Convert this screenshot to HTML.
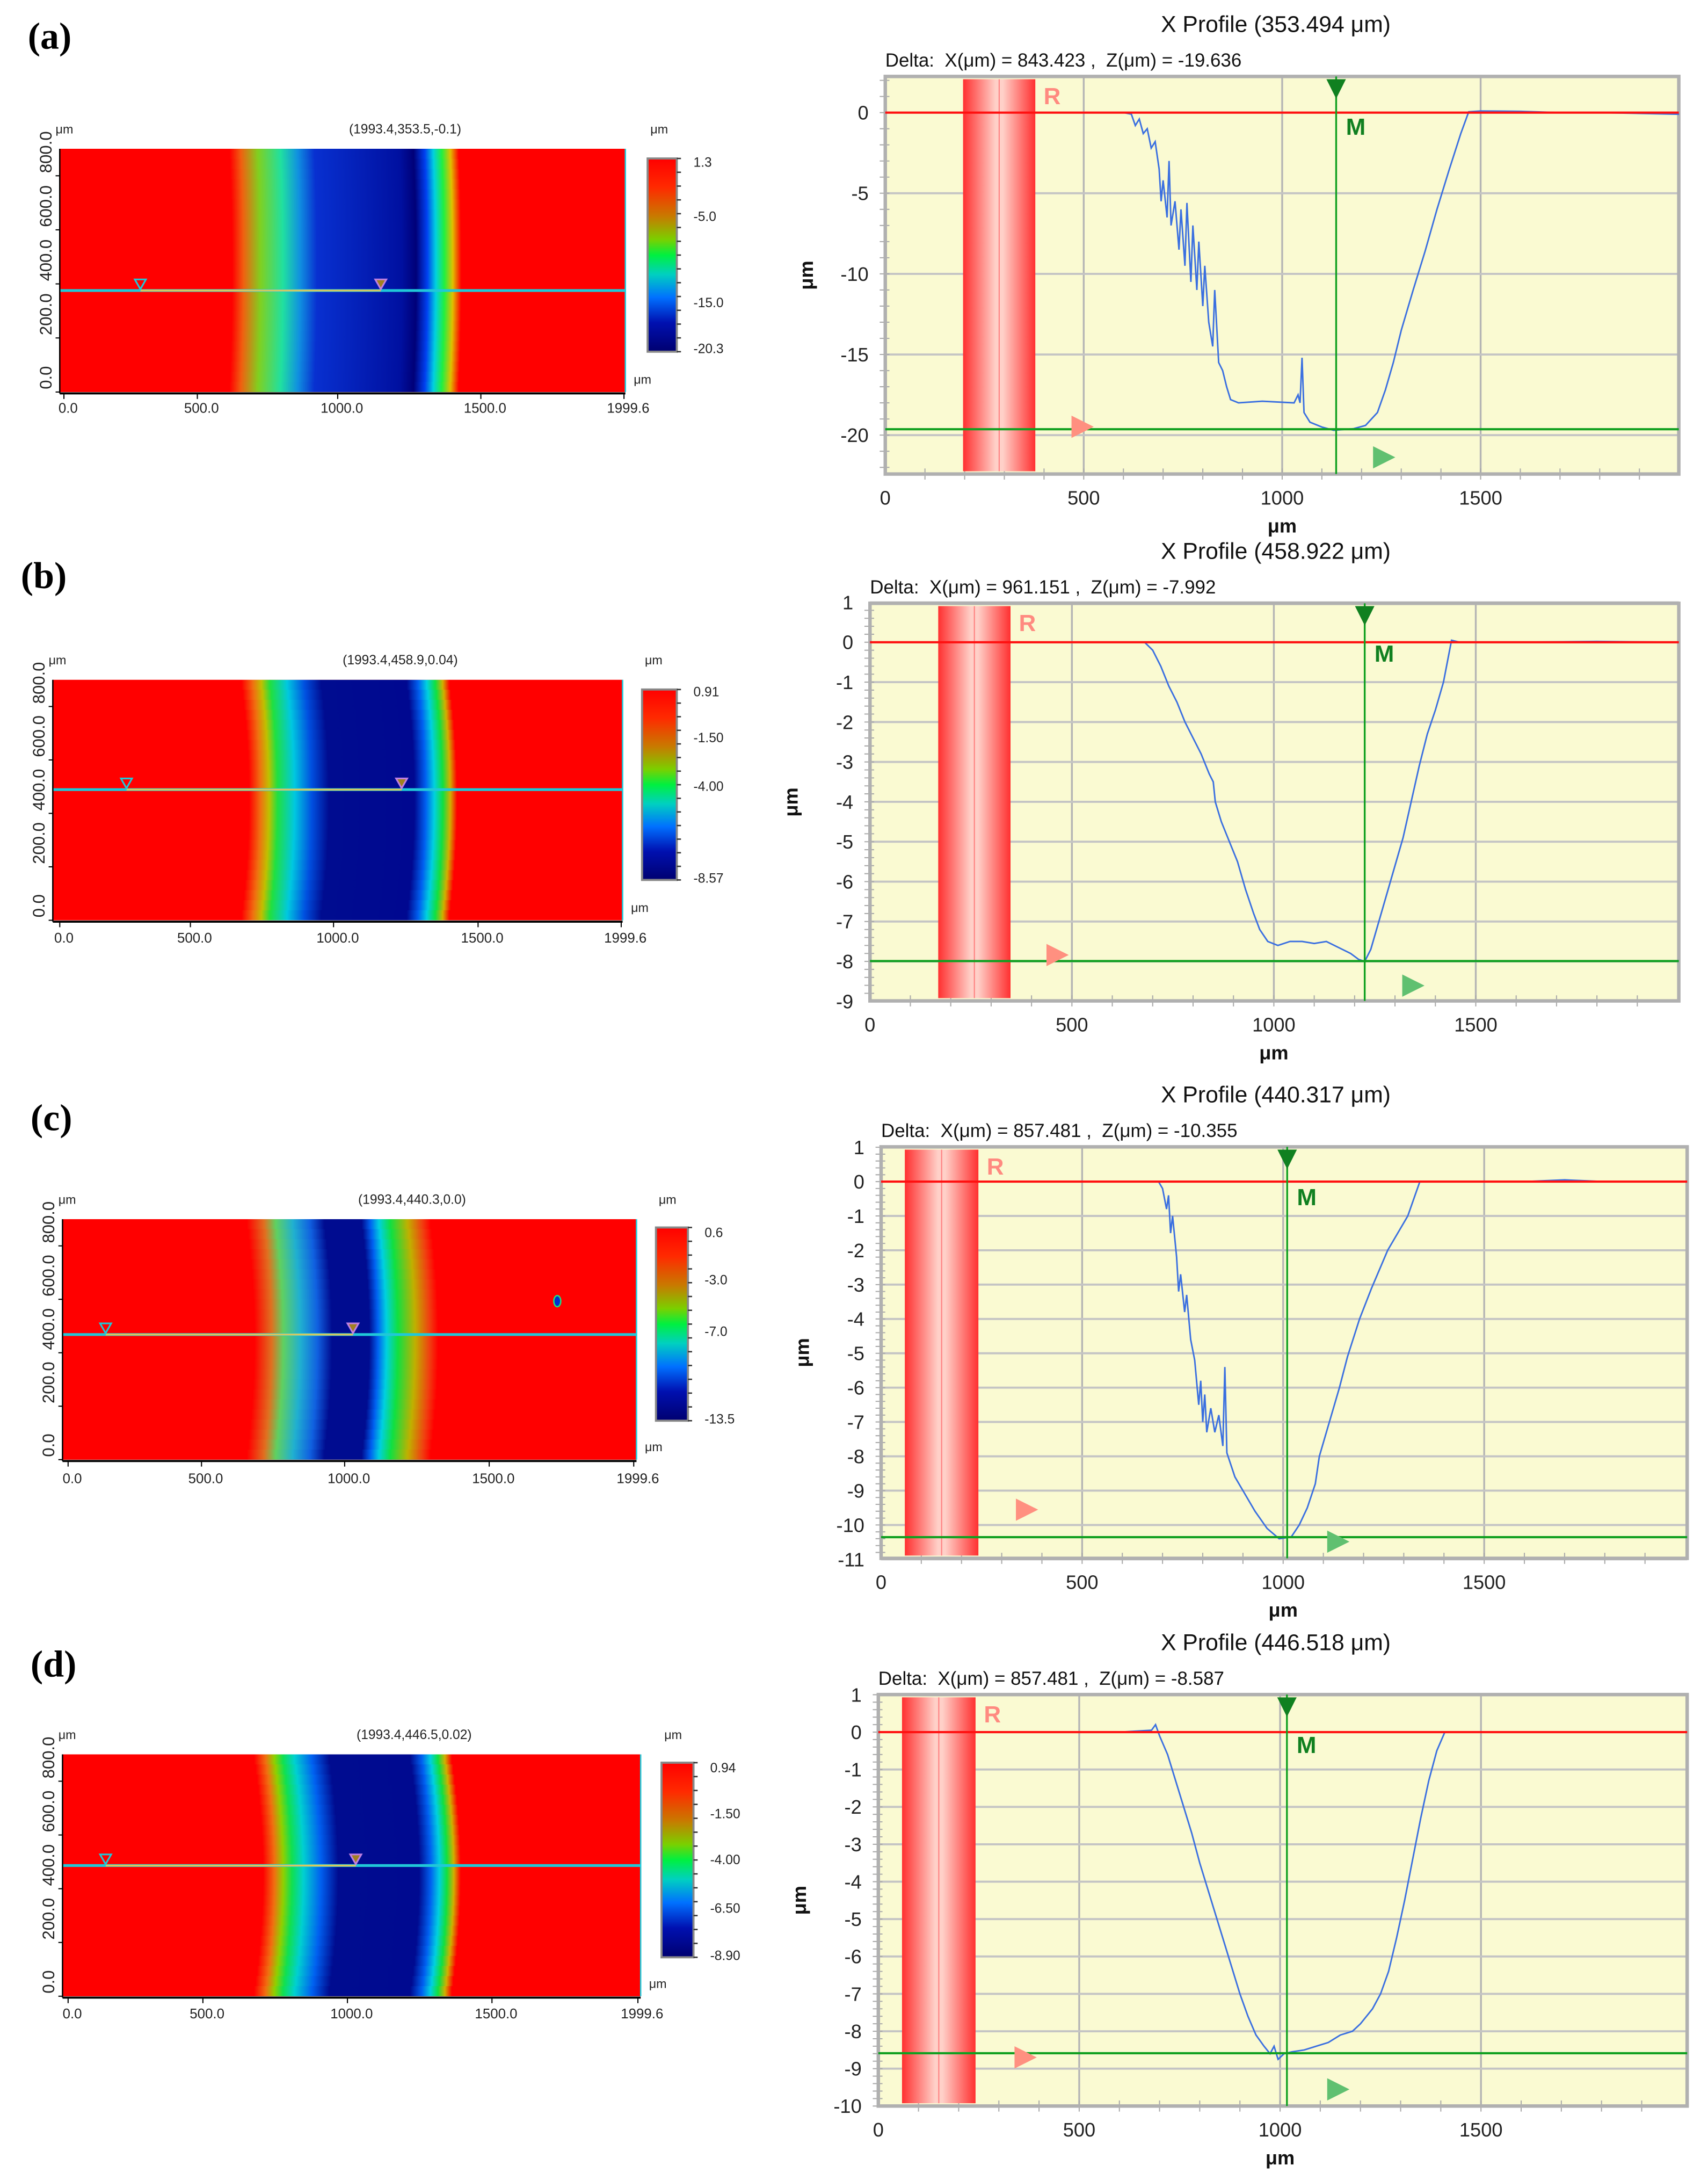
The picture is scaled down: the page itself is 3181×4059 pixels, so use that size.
<!DOCTYPE html>
<html><head><meta charset="utf-8"><style>
html,body{margin:0;padding:0;background:#fff;}
svg{display:block;font-family:"Liberation Sans",sans-serif;}
text{white-space:pre;}
</style></head><body>
<svg id="fig" xmlns="http://www.w3.org/2000/svg" width="3181" height="4059" viewBox="0 0 1229 1568.2" preserveAspectRatio="none">
<defs>
<linearGradient id="cbar" x1="0" y1="0" x2="0" y2="1">
<stop offset="0" stop-color="#ff0000"/><stop offset="0.15" stop-color="#ff2a00"/><stop offset="0.3" stop-color="#c87a00"/><stop offset="0.42" stop-color="#7ad000"/><stop offset="0.5" stop-color="#00f040"/><stop offset="0.6" stop-color="#00d0c0"/><stop offset="0.72" stop-color="#0070ff"/><stop offset="0.85" stop-color="#0010b0"/><stop offset="1" stop-color="#000070"/>
</linearGradient>
<linearGradient id="band" x1="0" y1="0" x2="1" y2="0">
<stop offset="0" stop-color="#ff3030"/><stop offset="0.45" stop-color="#ffd0c8"/><stop offset="0.55" stop-color="#ffd0c8"/><stop offset="1" stop-color="#ff3030"/>
</linearGradient>
</defs>
<g id="root"></g>
</svg>
<script>
// ---------- data ----------
const xTickLabels = [0, 500, 1000, 1500];
const heatXTickLabels = ["0.0", "500.0", "1000.0", "1500.0", "1999.6"];
const heatYTickLabels = ["0.0", "200.0", "400.0", "600.0", "800.0"];

const aX = [0,200,400,600,620,630,640,650,660,670,680,690,695,700,710,715,720,730,740,745,755,760,770,775,785,790,800,805,815,825,830,840,850,860,870,890,950,1030,1040,1045,1050,1055,1070,1100,1130,1180,1210,1240,1260,1280,1300,1330,1360,1390,1420,1450,1470,1500,1600,1700,1800,1900,2000];
const aZ = [0,0,0,0,-0.1,-0.8,-0.4,-1.3,-1.0,-2.2,-1.8,-3.5,-5.5,-4.2,-6.5,-3.0,-7.0,-5.5,-8.5,-6.0,-9.5,-5.6,-10.5,-7.0,-11.0,-8.0,-12.0,-9.5,-13.0,-14.5,-11.0,-15.5,-16.0,-17.0,-17.8,-18.0,-17.9,-18.0,-17.5,-18.0,-15.2,-18.6,-19.2,-19.5,-19.7,-19.6,-19.4,-18.6,-17.2,-15.5,-13.5,-11.0,-8.6,-6.0,-3.6,-1.3,0.05,0.1,0.08,0,0,-0.05,-0.1];

const bX = [0,300,600,680,700,720,740,760,780,800,820,840,850,855,870,890,910,930,950,965,985,1010,1040,1070,1100,1130,1160,1190,1210,1225,1240,1260,1280,1300,1320,1340,1360,1380,1400,1420,1440,1460,1600,1800,2000];
const bZ = [0,0,0,0,-0.2,-0.6,-1.1,-1.5,-2.0,-2.4,-2.8,-3.3,-3.5,-4.0,-4.5,-5.0,-5.5,-6.2,-6.8,-7.2,-7.5,-7.6,-7.5,-7.5,-7.55,-7.5,-7.65,-7.8,-7.95,-8.0,-7.7,-7.0,-6.3,-5.6,-4.9,-4.0,-3.1,-2.3,-1.7,-1.0,0.05,0,0,0.02,0];

const cX = [0,400,690,700,710,715,720,725,735,740,745,755,760,770,780,790,795,800,805,810,820,830,840,850,855,860,880,900,930,960,990,1020,1040,1060,1080,1090,1110,1130,1140,1160,1190,1220,1260,1290,1310,1340,1400,1600,1700,1800,2000];
const cZ = [0,0,0,-0.2,-0.8,-0.4,-1.5,-1.0,-2.2,-3.2,-2.7,-3.8,-3.3,-4.6,-5.2,-6.5,-5.8,-7.0,-6.2,-7.3,-6.6,-7.3,-6.8,-7.7,-5.4,-7.9,-8.6,-9.0,-9.6,-10.1,-10.4,-10.35,-10.0,-9.5,-8.8,-8.0,-7.2,-6.4,-6.0,-5.1,-4.0,-3.1,-2.0,-1.4,-1.0,0,0,0,0.05,0,0];

const dX = [0,400,600,680,690,700,720,740,760,780,800,820,840,860,880,900,920,940,960,975,985,995,1010,1030,1060,1090,1120,1150,1180,1200,1230,1250,1270,1290,1310,1330,1350,1370,1390,1410,1500,1800,2000];
const dZ = [0,0,0,0.05,0.2,-0.1,-0.6,-1.3,-2.0,-2.7,-3.5,-4.2,-4.9,-5.6,-6.3,-7.0,-7.6,-8.1,-8.4,-8.6,-8.4,-8.75,-8.6,-8.55,-8.5,-8.4,-8.3,-8.1,-8.0,-7.8,-7.4,-7.0,-6.4,-5.5,-4.5,-3.4,-2.3,-1.3,-0.5,0,0,0,0];

// ---------- helpers ----------
const NS = "http://www.w3.org/2000/svg";
const root = document.getElementById('root');
function mk(tag, attrs, parent, text) {
  const e = document.createElementNS(NS, tag);
  for (const k in attrs) e.setAttribute(k, attrs[k]);
  if (text !== undefined) e.textContent = text;
  (parent || root).appendChild(e);
  return e;
}

// ---------- profile charts ----------
const profiles = [
  {id:'a', X:aX, Z:aZ, L:637, R:1208, T:55, B:341, px0:637, ppu:0.2856, y0:81, ppz:11.6, zTicks:[0,-5,-10,-15,-20], minor:1,
   title:'X Profile (353.494 μm)', delta:'Delta:  X(μm) = 843.423 ,  Z(μm) = -19.636', band:[196,378], mX:1136, mZ:-19.636, pinkTri:[778,307], greenTri:[995,329]},
  {id:'b', X:bX, Z:bZ, L:626, R:1208, T:434, B:720, px0:626, ppu:0.2906, y0:462, ppz:28.7, zTicks:[1,0,-1,-2,-3,-4,-5,-6,-7,-8,-9], minor:0.2,
   title:'X Profile (458.922 μm)', delta:'Delta:  X(μm) = 961.151 ,  Z(μm) = -7.992', band:[169,348], mX:1225, mZ:-7.992, pinkTri:[760,687], greenTri:[1016,709]},
  {id:'c', X:cX, Z:cZ, L:634, R:1214, T:825, B:1121, px0:634, ppu:0.2893, y0:850, ppz:24.7, zTicks:[1,0,-1,-2,-3,-4,-5,-6,-7,-8,-9,-10,-11], minor:0.2,
   title:'X Profile (440.317 μm)', delta:'Delta:  X(μm) = 857.481 ,  Z(μm) = -10.355', band:[59,242], mX:1010, mZ:-10.355, pinkTri:[738,1086], greenTri:[962,1109]},
  {id:'d', X:dX, Z:dZ, L:632, R:1214, T:1219, B:1515, px0:632, ppu:0.2891, y0:1246, ppz:26.9, zTicks:[1,0,-1,-2,-3,-4,-5,-6,-7,-8,-9,-10], minor:0.2,
   title:'X Profile (446.518 μm)', delta:'Delta:  X(μm) = 857.481 ,  Z(μm) = -8.587', band:[59,242], mX:1017, mZ:-8.587, pinkTri:[737,1480], greenTri:[962,1503]}
];

profiles.forEach(p => {
  const sx = v => p.px0 + v * p.ppu;
  const sy = z => p.y0 - z * p.ppz;
  const g = mk('g', {});
  
  
  const bg = mk('rect', {x:p.L, y:p.T, width:p.R-p.L, height:p.B-p.T, fill:'#fafad2'}, g);
  
  
  xTickLabels.forEach(v => {
    if (v > 0) mk('line', {x1:sx(v), x2:sx(v), y1:p.T, y2:p.B, stroke:'#b4b4b4', 'stroke-width':1.3}, g);
  });
  p.zTicks.forEach(z => {
    mk('line', {x1:p.L, x2:p.R, y1:sy(z), y2:sy(z), stroke:'#c4c4c4', 'stroke-width':1.5}, g);
  });
  const zmax = (p.y0 - p.T) / p.ppz, zmin = (p.y0 - p.B) / p.ppz;
  for (let z = Math.ceil(zmin / p.minor) * p.minor; z <= zmax; z += p.minor) {
    mk('line', {x1:p.L-4, x2:p.L+3, y1:sy(z), y2:sy(z), stroke:'#aaa', 'stroke-width':0.8}, g);
  }
  for (let v = 100; v < 2000; v += 100) {
    mk('line', {x1:sx(v), x2:sx(v), y1:p.B-4, y2:p.B+4, stroke:'#aaa', 'stroke-width':0.8}, g);
  }
  mk('rect', {x:p.L, y:p.T, width:p.R-p.L, height:p.B-p.T, fill:'none', stroke:'#b0b0b0', 'stroke-width':2.5}, g);
  const band = mk('rect', {x:sx(p.band[0]), y:p.T+2, width:(p.band[1]-p.band[0])*p.ppu, height:p.B-p.T-4, fill:'url(#band)'}, g);
  
  
  const bm = (p.band[0]+p.band[1])/2;
  mk('line', {x1:sx(bm), x2:sx(bm), y1:p.T+2, y2:p.B-2, stroke:'#ff8080', 'stroke-width':0.8}, g);
  const rl = mk('text', {x:sx(p.band[1])+6, y:p.T+20, fill:'#ff8a80', 'font-size':17, 'font-weight':'bold'}, g, 'R');
  
  
  let d = '';
  p.X.forEach((v, i) => { d += (i ? 'L' : 'M') + sx(v).toFixed(2) + ',' + sy(p.Z[i]).toFixed(2); });
  const line = mk('path', {d:d, fill:'none', stroke:'#3a6fe0', 'stroke-width':1.1}, g);
  
  
  const zl = mk('line', {x1:p.L, x2:p.R, y1:sy(0), y2:sy(0), stroke:'#ff1010', 'stroke-width':1.6}, g);
  
  
  const mv = mk('line', {x1:sx(p.mX), x2:sx(p.mX), y1:p.T, y2:p.B, stroke:'#10a020', 'stroke-width':1.3}, g);
  
  
  const mh = mk('line', {x1:p.L, x2:p.R, y1:sy(p.mZ), y2:sy(p.mZ), stroke:'#10a020', 'stroke-width':1.6}, g);
  
  
  const mt = mk('path', {d:`M${sx(p.mX)-7},${p.T+2}L${sx(p.mX)+7},${p.T+2}L${sx(p.mX)},${p.T+16}Z`, fill:'#108020'}, g);
  
  
  const ml = mk('text', {x:sx(p.mX)+7, y:p.T+42, fill:'#108020', 'font-size':17, 'font-weight':'bold'}, g, 'M');
  
  
  const pt = mk('path', {d:`M${p.pinkTri[0]-7},${p.pinkTri[1]-8}L${p.pinkTri[0]+9},${p.pinkTri[1]}L${p.pinkTri[0]-7},${p.pinkTri[1]+8}Z`, fill:'#ff9080'}, g);
  
  
  const gt = mk('path', {d:`M${p.greenTri[0]-7},${p.greenTri[1]-8}L${p.greenTri[0]+9},${p.greenTri[1]}L${p.greenTri[0]-7},${p.greenTri[1]+8}Z`, fill:'#60c070'}, g);
  
  
  xTickLabels.forEach(v => {
    const t = mk('text', {x:sx(v), y:p.B+22, 'text-anchor':'middle', 'font-size':14, fill:'#222'}, g, String(v));
    
    
  });
  p.zTicks.forEach(z => {
    const t = mk('text', {x:p.L-12, y:sy(z)+5, 'text-anchor':'end', 'font-size':14, fill:'#222'}, g, String(z));
    
    
  });
  const xt = mk('text', {x:sx(1000), y:p.B+42, 'text-anchor':'middle', 'font-size':14, 'font-weight':'bold', fill:'#111'}, g, 'μm');
  
  
  const ym = (p.T+p.B)/2;
  const yt = mk('text', {x:p.L-52, y:ym, 'text-anchor':'middle', 'font-size':14, 'font-weight':'bold', fill:'#111', transform:`rotate(-90 ${p.L-52} ${ym})`}, g, 'μm');
  
  
  const tt = mk('text', {x:918, y:p.T-32, 'text-anchor':'middle', 'font-size':16.5, fill:'#111'}, g, p.title);
  
  
  const dt = mk('text', {x:p.L, y:p.T-7, 'font-size':13.5, fill:'#111'}, g, p.delta);
  
  
});

// ---------- height maps ----------
const maps = [
  {id:'a', label:'(a)', lx:20, ly:35, L:43, R:450, T:107, B:282, bow:2, line:209, mk1:101, mk2:274, head:'(1993.4,353.5,-0.1)',
   cb:[466,114,487,253], cbl:[['1.3',117],['-5.0',156],['-15.0',218],['-20.3',251]],
   stops:[[0,'#ff0000'],[0.3,'#ff0000'],[0.32,'#f06010'],[0.35,'#80d020'],[0.39,'#20e0a0'],[0.42,'#1090e0'],[0.45,'#0830d0'],[0.6,'#0010a0'],[0.625,'#000078'],[0.645,'#0040f0'],[0.66,'#00d0e0'],[0.675,'#20f040'],[0.69,'#e0c000'],[0.705,'#ff0000'],[1,'#ff0000']],
   xl:[49,145,246,349,452], xly:297},
  {id:'b', label:'(b)', lx:15, ly:423, L:38, R:448, T:489, B:662, bow:6, line:568, mk1:91, mk2:289, head:'(1993.4,458.9,0.04)',
   cb:[462,496,487,633], cbl:[['0.91',498],['-1.50',531],['-4.00',566],['-8.57',632]],
   stops:[[0,'#ff0000'],[0.33,'#ff0000'],[0.35,'#f07010'],[0.365,'#c0c000'],[0.38,'#20e040'],[0.41,'#00c8e0'],[0.44,'#0050e0'],[0.47,'#000c90'],[0.62,'#000890'],[0.64,'#0060f0'],[0.655,'#00d0e0'],[0.67,'#10e040'],[0.683,'#d0b000'],[0.695,'#ff0000'],[1,'#ff0000']],
   xl:[46,140,243,347,450], xly:678},
  {id:'c', label:'(c)', lx:22, ly:813, L:45, R:458, T:877, B:1050, bow:6, line:960, mk1:76, mk2:254, head:'(1993.4,440.3,0.0)',
   cb:[472,883,495,1022], cbl:[['0.6',887],['-3.0',921],['-7.0',958],['-13.5',1021]],
   stops:[[0,'#ff0000'],[0.32,'#ff0000'],[0.35,'#e07020'],[0.37,'#60d060'],[0.4,'#20b0d0'],[0.43,'#1060e0'],[0.455,'#000c90'],[0.52,'#000c90'],[0.535,'#0060f0'],[0.55,'#00d0e0'],[0.57,'#10e040'],[0.6,'#c0b000'],[0.625,'#f04010'],[0.64,'#ff0000'],[1,'#ff0000']],
   xl:[52,148,251,355,459], xly:1067, dot:[401,936]},
  {id:'d', label:'(d)', lx:22, ly:1206, L:45, R:461, T:1262, B:1436, bow:7, line:1342, mk1:76, mk2:256, head:'(1993.4,446.5,0.02)',
   cb:[476,1268,499,1408], cbl:[['0.94',1272],['-1.50',1305],['-4.00',1338],['-6.50',1373],['-8.90',1407]],
   stops:[[0,'#ff0000'],[0.33,'#ff0000'],[0.35,'#f07010'],[0.365,'#90d000'],[0.38,'#10e050'],[0.4,'#00d0d0'],[0.43,'#0060f0'],[0.46,'#000c90'],[0.6,'#000a90'],[0.62,'#0060f0'],[0.635,'#00d0e0'],[0.648,'#10e040'],[0.66,'#d0b000'],[0.672,'#ff0000'],[1,'#ff0000']],
   xl:[52,149,253,357,462], xly:1452}
];

const defs = document.querySelector('defs');
maps.forEach(m => {
  const g = mk('g', {});
  
  
  const lab = mk('text', {x:m.lx, y:m.ly, 'font-size':27, 'font-weight':'bold', 'font-family':'Liberation Serif, serif', fill:'#000'}, g, m.label);
  
  
  const gr = mk('linearGradient', {id:'hg'+m.id, x1:0, y1:0, x2:1, y2:0}, defs);
  m.stops.forEach(s => mk('stop', {offset:s[0], 'stop-color':s[1]}, gr));
  const cp = mk('clipPath', {id:'cp'+m.id}, defs);
  mk('rect', {x:m.L, y:m.T, width:m.R-m.L, height:m.B-m.T}, cp);
  const hg = mk('g', {'clip-path':`url(#cp${m.id})`}, g);
  mk('rect', {x:m.L, y:m.T, width:m.R-m.L, height:m.B-m.T, fill:'#ff0000'}, hg);
  const N = 24, h = (m.B-m.T)/N;
  for (let i = 0; i < N; i++) {
    const t = ((i+0.5)/N)*2-1;
    const sh = m.bow*(1-t*t);
    mk('rect', {x:m.L+sh, y:m.T+i*h, width:m.R-m.L, height:h+0.6, fill:`url(#hg${m.id})`}, hg);
  }
  if (m.dot) mk('ellipse', {cx:m.dot[0], cy:m.dot[1], rx:2.5, ry:4, fill:'#0030d0', stroke:'#20e080', 'stroke-width':1}, hg);
  const pl = mk('line', {x1:m.L, x2:m.R, y1:m.line, y2:m.line, stroke:'#20c8d8', 'stroke-width':2}, g);
  
  
  mk('line', {x1:m.mk1, x2:m.mk2, y1:m.line, y2:m.line, stroke:'#d8c860', 'stroke-width':1.3}, g);
  [m.mk1, m.mk2].forEach((x, k) => {
    const tri = mk('path', {d:`M${x-4},${m.line-8}L${x+4},${m.line-8}L${x},${m.line-1}Z`, fill:k?'#a08020':'none', stroke:k?'#c080e0':'#20c8d8', 'stroke-width':1.2}, g);
    
    
  });
  mk('line', {x1:m.L, x2:m.R, y1:m.B+1, y2:m.B+1, stroke:'#000', 'stroke-width':1.5}, g);
  mk('line', {x1:m.L, x2:m.L, y1:m.T, y2:m.B+1, stroke:'#000', 'stroke-width':1}, g);
  mk('line', {x1:m.R, x2:m.R, y1:m.T, y2:m.B, stroke:'#20d0e0', 'stroke-width':1}, g);
  m.xl.forEach((x, i) => {
    mk('line', {x1:x-3, x2:x-3, y1:m.B+1, y2:m.B+5, stroke:'#000', 'stroke-width':0.8}, g);
    const t = mk('text', {x:x, y:m.xly, 'text-anchor':'middle', 'font-size':10, fill:'#222'}, g, heatXTickLabels[i]);
    
    
  });
  const pxPerUm = (m.B-m.T)/900;
  heatYTickLabels.forEach((s, i) => {
    const y = m.B - i*200*pxPerUm;
    mk('line', {x1:m.L-3, x2:m.L, y1:y, y2:y, stroke:'#000', 'stroke-width':0.8}, g);
    const t = mk('text', {x:m.L-6, y:y-2, 'text-anchor':'start', 'font-size':12, fill:'#222', transform:`rotate(-90 ${m.L-6} ${y-2})`}, g, s);
    
    
  });
  mk('text', {x:m.L-3, y:m.T-11, 'font-size':9, fill:'#222'}, g, 'μm');
  const hd = mk('text', {x:(m.L+m.R)/2+45, y:m.T-11, 'text-anchor':'middle', 'font-size':9.5, fill:'#222'}, g, m.head);
  
  
  mk('text', {x:m.cb[0]+2, y:m.T-11, 'font-size':9, fill:'#222'}, g, 'μm');
  mk('text', {x:m.R+6, y:m.B-6, 'font-size':9, fill:'#222'}, g, 'μm');
  const cb = mk('rect', {x:m.cb[0], y:m.cb[1], width:m.cb[2]-m.cb[0], height:m.cb[3]-m.cb[1], fill:'url(#cbar)', stroke:'#888', 'stroke-width':1.5}, g);
  
  
  for (let k = 0; k <= 14; k++) {
    const y = m.cb[1] + k*(m.cb[3]-m.cb[1])/14;
    mk('line', {x1:m.cb[2], x2:m.cb[2]+3, y1:y, y2:y, stroke:'#333', 'stroke-width':1}, g);
  }
  m.cbl.forEach(c => {
    const t = mk('text', {x:m.cb[2]+12, y:c[1]+3, 'font-size':9.5, fill:'#222'}, g, c[0]);
    
    
  });
});
</script>
</body></html>
